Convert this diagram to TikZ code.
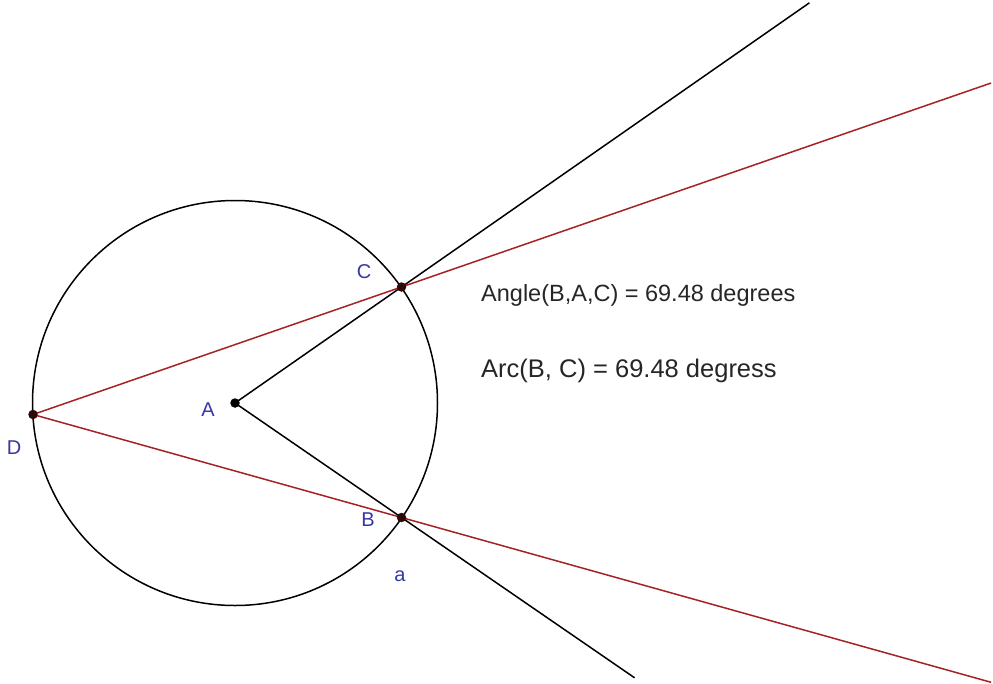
\documentclass[tikz,border=0pt]{standalone}
\usepackage{fontspec}
\setmainfont{Liberation Sans}
\usetikzlibrary{calc}
\definecolor{ptblue}{RGB}{55,55,165}
\definecolor{linered}{RGB}{165,35,35}
\definecolor{dotdark}{RGB}{45,10,10}
\begin{document}
\begin{tikzpicture}[x=1pt,y=-1pt,
  blackline/.style={draw=black,line width=1.5pt},
  redline/.style={draw=linered,line width=1.5pt},
  ptdot/.style={circle,fill=#1,inner sep=0pt,minimum size=9.5pt},
  ptlabel/.style={text=ptblue,inner sep=0pt,font=\fontsize{20}{22}\selectfont},
  infotext/.style={text=black!85,inner sep=0pt,anchor=base west}]
\useasboundingbox[fill=white] (0,0) rectangle (993,683);
% points
\coordinate (A) at (235,403);
\coordinate (C) at (401.5,287);
\coordinate (B) at (401.5,517.5);
\coordinate (D) at (33,414.5);
% ray ends
\coordinate (eAC) at ($(A)!3.45!(C)$);
\coordinate (eAB) at ($(A)!2.4!(B)$);
\coordinate (eDC) at ($(D)!2.6!(C)$);
\coordinate (eDB) at ($(D)!2.6!(B)$);
% circle
\draw[blackline] (A) circle[radius=202.5pt];
% black rays
\draw[blackline] (A) -- (eAC);
\draw[blackline] (A) -- (eAB);
% red rays
\draw[redline] (D) -- (eDC);
\draw[redline] (D) -- (eDB);
% dots
\node[ptdot=black] (pA) at (A) {};
\node[ptdot=dotdark] (pC) at (C) {};
\node[ptdot=dotdark] (pB) at (B) {};
\node[ptdot=dotdark] (pD) at (D) {};
% labels
\node[ptlabel] (lC) at (364,272) {C};
\node[ptlabel] (lA) at (208,410) {A};
\node[ptlabel] (lD) at (14,448) {D};
\node[ptlabel] (lB) at (368,520) {B};
\node[ptlabel] (la) at (400,576) {a};
% texts
\node[infotext,font=\fontsize{23.5}{26}\selectfont] (t1) at (481,301.5) {Angle(B,A,C) = 69.48 degrees};
\node[infotext,font=\fontsize{25.5}{28}\selectfont] (t2) at (481,377) {Arc(B, C) = 69.48 degress};
\end{tikzpicture}
\end{document}
